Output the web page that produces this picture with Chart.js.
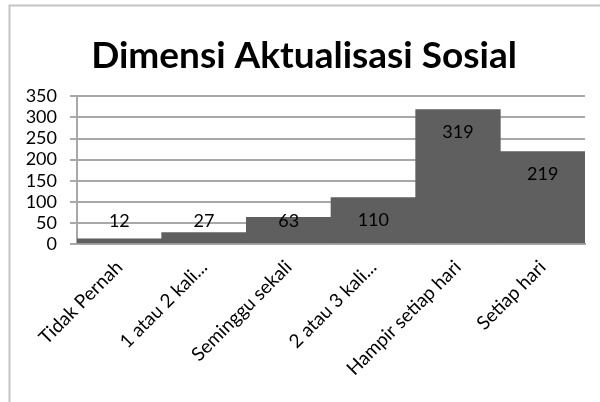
<!DOCTYPE html>
<html>
<head>
<meta charset="utf-8">
<script src="https://cdn.jsdelivr.net/npm/chart.js@4/dist/chart.umd.min.js"></script>
<style>
  html, body { margin: 0; padding: 0; background: #fff; overflow: hidden; }
  #wrap { position: absolute; left: 0; top: 0; width: 600px; height: 402px; }
</style>
</head>
<body>
<div id="wrap"><canvas id="c" width="600" height="402"></canvas></div>
<script>
const categories = ["Tidak Pernah", "1 atau 2 kali...", "Seminggu sekali", "2 atau 3 kali...", "Hampir setiap hari", "Setiap hari"];
const values = [12, 27, 63, 110, 319, 219];
const yTicks = [0, 50, 100, 150, 200, 250, 300, 350];
const chartTitle = "Dimensi Aktualisasi Sosial";

const FONT = "Lato, 'Noto Sans', sans-serif";
const GRID = "#a8a8a8";

const framePlugin = {
  id: 'frame',
  beforeDraw(chart) {
    const ctx = chart.ctx;
    ctx.save();
    ctx.strokeStyle = '#c4c4c4';
    ctx.lineWidth = 2;
    ctx.beginPath();
    ctx.moveTo(9.5, 420);
    ctx.lineTo(9.5, 5.5);
    ctx.lineTo(620, 5.5);
    ctx.stroke();
    ctx.restore();
  }
};

const labelPlugin = {
  id: 'barLabels',
  afterDatasetsDraw(chart) {
    const ctx = chart.ctx;
    const meta = chart.getDatasetMeta(0);
    ctx.save();
    ctx.font = "18px " + FONT;
    ctx.fillStyle = '#000';
    ctx.textAlign = 'center';
    ctx.textBaseline = 'middle';
    meta.data.forEach((bar, i) => {
      const y = Math.min(bar.y + 23, bar.base - 22);
      ctx.fillText(String(chart.data.datasets[0].data[i]), bar.x, y);
    });
    ctx.restore();
  }
};

new Chart(document.getElementById('c'), {
  type: 'bar',
  data: {
    labels: categories,
    datasets: [{
      data: values,
      backgroundColor: '#5f5f5f',
      borderWidth: 0,
      categoryPercentage: 1.0,
      barPercentage: 1.0
    }]
  },
  options: {
    responsive: false,
    animation: false,
    layout: { padding: { left: 23, right: 15, top: 0, bottom: 0 } },
    plugins: {
      legend: { display: false },
      tooltip: { enabled: false },
      title: {
        display: true,
        text: chartTitle,
        color: '#000',
        font: { family: FONT, size: 37, weight: 'bold' },
        padding: { top: 34, bottom: 18 }
      }
    },
    scales: {
      x: {
        grid: { display: false },
        border: { display: true, color: GRID, width: 2 },
        ticks: {
          color: '#000',
          font: { family: FONT, size: 19 },
          maxRotation: 45,
          minRotation: 45,
          autoSkip: false,
          padding: 4
        },
        afterFit(scale) { scale.height = 158; }
      },
      y: {
        min: 0,
        max: 350,
        afterBuildTicks(scale) { scale.ticks = yTicks.map(v => ({ value: v })); },
        grid: { color: GRID, lineWidth: 2, tickLength: 7, tickColor: GRID },
        border: { display: true, color: GRID, width: 2 },
        ticks: {
          color: '#000',
          font: { family: FONT, size: 18 },
          padding: 13,
          autoSkip: false
        },
        afterFit(scale) { scale.width = 54; }
      }
    }
  },
  plugins: [framePlugin, labelPlugin]
});
</script>
</body>
</html>
